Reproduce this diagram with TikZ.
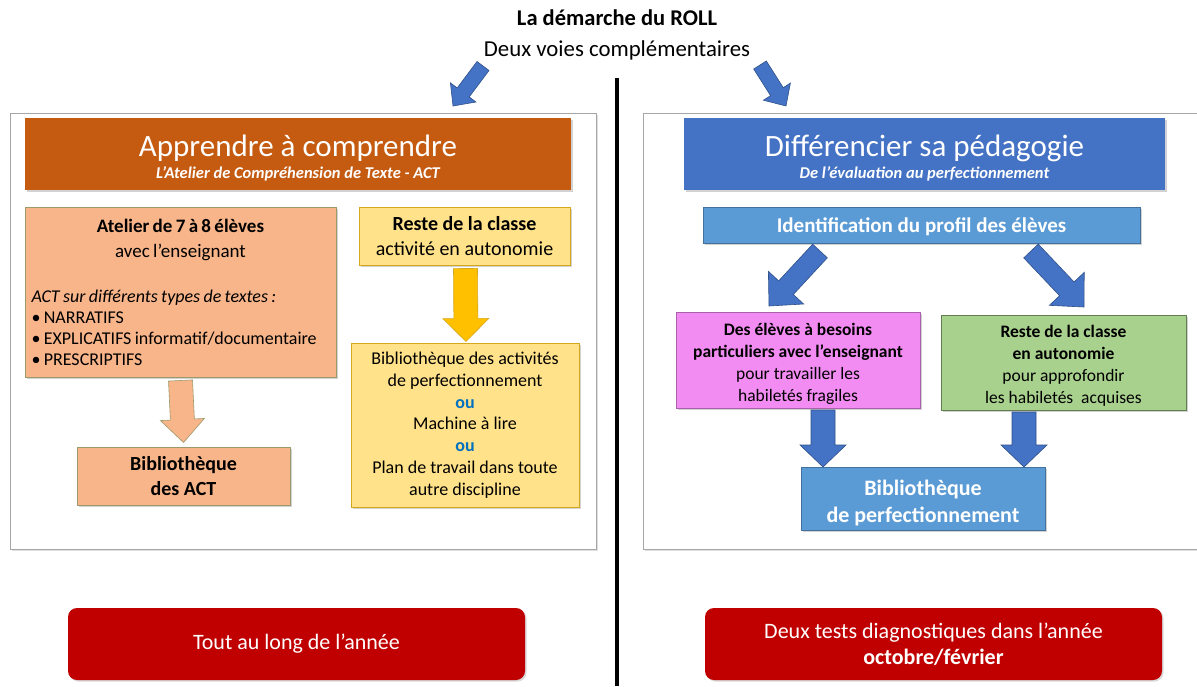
\documentclass[tikz,border=0pt]{standalone}
\usepackage{fontspec}
\setmainfont{Carlito}
\usetikzlibrary{calc,shadows}
\definecolor{orangeH}{HTML}{C55A11}
\definecolor{blueH}{HTML}{4472C4}
\definecolor{lblue}{HTML}{5B9BD5}
\definecolor{lblueB}{HTML}{41719C}
\definecolor{salmon}{HTML}{F8B58A}
\definecolor{salmonB}{HTML}{9C9A6A}
\definecolor{ylw}{HTML}{FFE28A}
\definecolor{ylwB}{HTML}{D4A81C}
\definecolor{gold}{HTML}{FFC000}
\definecolor{pinkB}{HTML}{F28CF2}
\definecolor{grn}{HTML}{A9D18E}
\definecolor{redB}{HTML}{C00000}
\definecolor{ouC}{HTML}{0070C0}
\newcommand\fs[2]{\fontsize{#1}{#2}\selectfont}
\newcommand\barrow[6]{%
  \coordinate (bk) at ($(#3)!#6!(#2)$);
  \path[#1] ($(#2)!#4!90:(#3)$) -- ($(bk)!#4!-90:(#2)$) -- ($(bk)!#5!-90:(#2)$)
    -- (#3) -- ($(bk)!#5!90:(#2)$) -- ($(bk)!#4!90:(#2)$) -- ($(#2)!#4!-90:(#3)$) -- cycle;}
\tikzset{
  panel/.style={draw=gray!70, line width=1pt, fill=white, drop shadow={opacity=.25, shadow xshift=2pt, shadow yshift=-2pt}},
  box/.style={rectangle, inner sep=0pt, drop shadow={opacity=.35, shadow xshift=2pt, shadow yshift=-2pt}},
  hdr/.style={box, text=white, align=center},
  redbox/.style={rectangle, rounded corners=9pt, fill=redB, text=white, align=center, inner sep=0pt,
     drop shadow={opacity=.3, shadow xshift=1.5pt, shadow yshift=-1.5pt}},
  bluearr/.style={fill=blueH, draw=blueH!70!black, line width=.6pt},
  orarr/.style={fill=salmon, draw=salmonB, line width=.6pt},
  yarr/.style={fill=gold, draw=ylwB, line width=.6pt},
}
\begin{document}
\begin{tikzpicture}[x=1pt,y=-1pt]
\useasboundingbox (0,0) rectangle (1197,686);
% titles
\node[font=\fs{22.5}{24}\bfseries] (title) at (617,18) {La démarche du ROLL};
\node[font=\fs{22.8}{24}] (sub) at (617,50) {Deux voies complémentaires};
% separator
\coordinate (vt) at (617,78);
\coordinate (vb) at (617,686);
\draw[line width=4pt] (vt) -- (vb);
% panels
\node[panel, minimum width=586pt, minimum height=436pt, inner sep=0pt] (lp) at (303,331) {};
\node[panel, minimum width=560pt, minimum height=436pt, inner sep=0pt] (rp) at (923,331) {};
% top arrows
\coordinate (ta1) at (483,66); \coordinate (ta2) at (453,106);
\barrow{bluearr}{ta1}{ta2}{7.5pt}{16pt}{17pt}
\coordinate (tb1) at (760,65); \coordinate (tb2) at (786,106);
\barrow{bluearr}{tb1}{tb2}{7.5pt}{16pt}{17pt}
% headers
\node[hdr, fill=orangeH, minimum width=546pt, minimum height=72pt] (hl) at (298,154)
 {\fs{31}{31}\rule{0pt}{30pt}Apprendre à comprendre\\[4pt]\fs{16.5}{18}\bfseries\itshape L’Atelier de Compréhension de Texte - ACT};
\node[hdr, fill=blueH, minimum width=481pt, minimum height=72pt] (hr) at (924.5,154)
 {\fs{31}{31}\rule{0pt}{30pt}Différencier sa pédagogie\\[4pt]\fs{16.5}{18}\bfseries\itshape De l’évaluation au perfectionnement};
% left side
\node[box, fill=salmon, draw=salmonB, line width=1pt, minimum width=311pt, minimum height=170pt, text width=298pt] (atelier) at (180.5,292)
 {\fs{19}{25}{\centering\bfseries Atelier de 7 à 8 élèves\\\mdseries avec l’enseignant\par}
  \vspace{24pt}
  {\fs{18}{21}\raggedright\itshape ACT sur différents types de textes :\\\upshape
  • NARRATIFS\\• EXPLICATIFS informatif/documentaire\\• PRESCRIPTIFS\par}\vspace{12pt}};
\node[box, fill=salmon, draw=salmonB, line width=1pt, minimum width=213pt, minimum height=58pt, align=center,
  font=\fs{20}{25}\bfseries] (bact) at (183.5,476) {Bibliothèque\\des ACT};
\node[box, fill=ylw, draw=ylwB, line width=1pt, minimum width=211pt, minimum height=58pt, align=center,
  font=\fs{20}{25}] (reste) at (464.5,236) {\textbf{Reste de la classe}\\activité en autonomie};
\node[box, fill=ylw, draw=ylwB, line width=1pt, minimum width=228pt, minimum height=164pt, align=center,
  font=\fs{18}{21.8}] (biblio) at (465,425)
 {Bibliothèque des activités\\de perfectionnement\\\textcolor{ouC}{\bfseries ou}\\Machine à lire\\\textcolor{ouC}{\bfseries ou}\\Plan de travail dans toute\\autre discipline};
\coordinate (oa1) at ($(atelier.south)+(0,3)$); \coordinate (oa2) at ($(bact.north)+(0,-4)$);
\barrow{orarr}{oa1}{oa2}{12pt}{22pt}{23pt}
\coordinate (ya1) at ($(reste.south)+(1,3)$); \coordinate (ya2) at ($(biblio.north)+(1,-1)$);
\barrow{yarr}{ya1}{ya2}{12pt}{23pt}{23pt}
% right side
\node[box, fill=lblue, draw=lblueB, line width=1pt, minimum width=437pt, minimum height=36pt,
  text=white, font=\fs{21}{24}\bfseries] (ident) at (921.5,225) {\rule{0pt}{19pt}Identification du profil des élèves};
\node[box, fill=pinkB, draw=pinkB!70!black, line width=1pt, minimum width=244pt, minimum height=96pt, align=center,
  font=\fs{17.5}{22}] (pink) at (798,360)
 {\rule{0pt}{19pt}\textbf{Des élèves à besoins}\\\textbf{particuliers avec l’enseignant}\\pour travailler les\\habiletés fragiles};
\node[box, fill=grn, draw=grn!60!black, line width=1pt, minimum width=245pt, minimum height=95pt, align=center,
  font=\fs{17.5}{22}] (green) at (1063.5,362.5)
 {\rule{0pt}{18pt}\textbf{Reste de la classe}\\\textbf{en autonomie}\\pour approfondir\\les habiletés~~acquises};
\node[box, fill=lblue, draw=lblueB, line width=1pt, minimum width=244pt, minimum height=63pt, align=center,
  text=white, font=\fs{22}{27}\bfseries] (bperf) at (923,498.5) {\rule{0pt}{24pt}Bibliothèque\\de perfectionnement};
\coordinate (d1a) at (820,251); \coordinate (d1b) at (769,306);
\barrow{bluearr}{d1a}{d1b}{10pt}{24pt}{25pt}
\coordinate (d2a) at (1031,251); \coordinate (d2b) at (1084,307);
\barrow{bluearr}{d2a}{d2b}{10pt}{24pt}{25pt}
\coordinate (p1a) at (823,410); \coordinate (p1b) at (823,467);
\barrow{bluearr}{p1a}{p1b}{12pt}{23pt}{22pt}
\coordinate (p2a) at (1024,412); \coordinate (p2b) at (1024,467);
\barrow{bluearr}{p2a}{p2b}{12pt}{23pt}{22pt}
% red boxes
\node[redbox, minimum width=457pt, minimum height=72pt, font=\fs{22}{26}] (r1) at (296.5,644) {Tout au long de l’année};
\node[redbox, minimum width=457pt, minimum height=72pt, font=\fs{22}{26}] (r2) at (933.5,644)
 {Deux tests diagnostiques dans l’année\\\textbf{octobre/février}};
\end{tikzpicture}
\end{document}
